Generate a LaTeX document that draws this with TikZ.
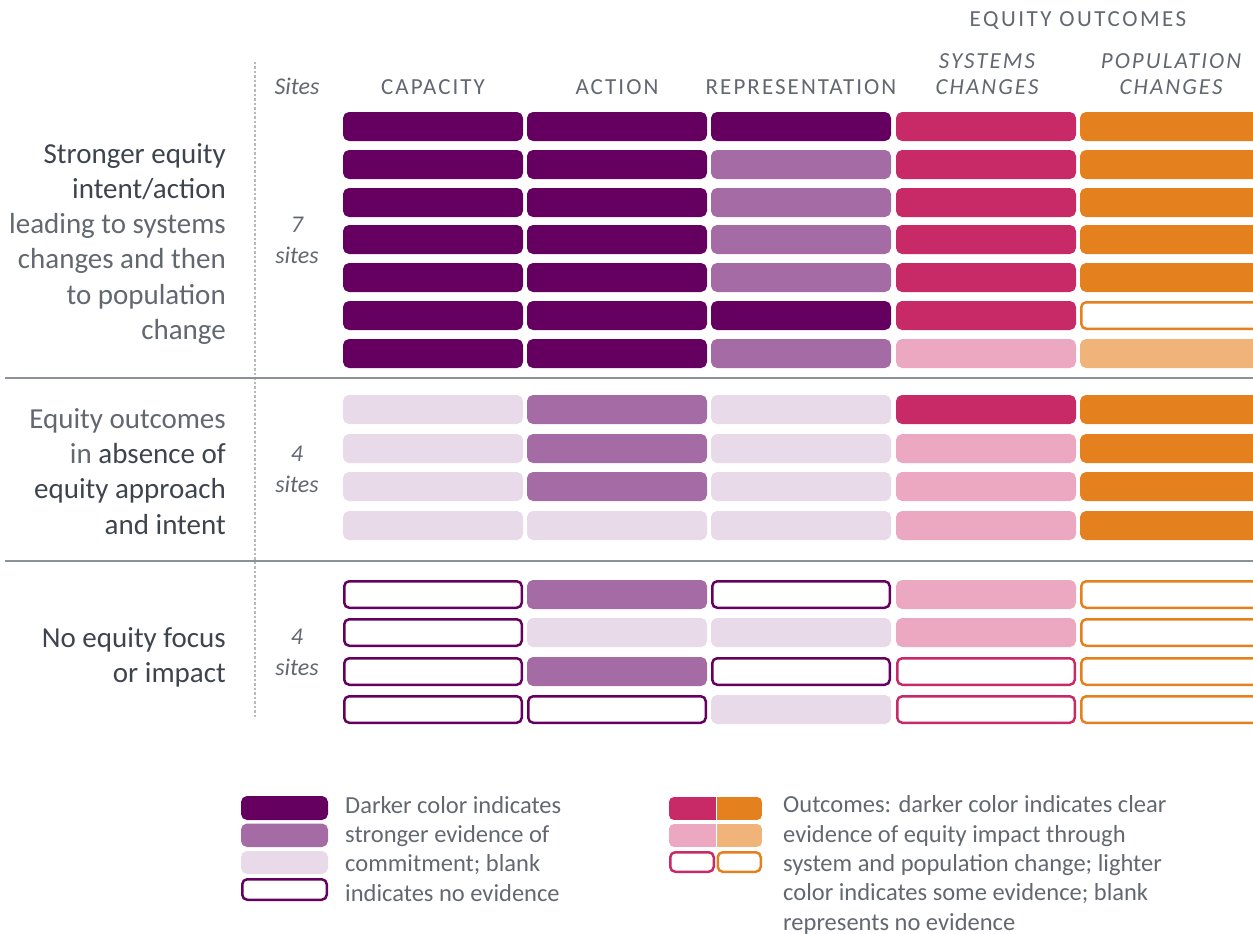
\documentclass[tikz,border=0pt]{standalone}
\usepackage{fontspec}
\setmainfont{Carlito}
\newfontfamily\capsfont[LetterSpace=9]{Carlito}
\newfontfamily\widecaps[LetterSpace=11]{Carlito}

% colours of the cells
\definecolor{purDark}{RGB}{102,0,96}
\definecolor{purMid}{RGB}{165,107,165}
\definecolor{purLight}{RGB}{232,218,233}
\definecolor{pnkDark}{RGB}{200,42,104}
\definecolor{pnkLight}{RGB}{236,168,193}
\definecolor{orgDark}{RGB}{229,128,30}
\definecolor{orgLight}{RGB}{240,179,122}
\definecolor{txtLight}{RGB}{98,103,112}
\definecolor{txtStrong}{RGB}{62,68,78}
\definecolor{rule}{RGB}{140,144,151}

\tikzset{
  cellbox/.style={line width=2.5pt, rounded corners=5pt},
  pur3/.style={cellbox, fill=purDark, draw=purDark},
  pur2/.style={cellbox, fill=purMid, draw=purMid},
  pur1/.style={cellbox, fill=purLight, draw=purLight},
  pur0/.style={cellbox, fill=white, draw=purDark},
  pnk3/.style={cellbox, fill=pnkDark, draw=pnkDark},
  pnk1/.style={cellbox, fill=pnkLight, draw=pnkLight},
  pnk0/.style={cellbox, fill=white, draw=pnkDark},
  org3/.style={cellbox, fill=orgDark, draw=orgDark},
  org1/.style={cellbox, fill=orgLight, draw=orgLight},
  org0/.style={cellbox, fill=white, draw=orgDark},
  grouptext/.style={inner sep=0pt, anchor=base east, text=txtLight,
    font=\fontsize{29}{35}\selectfont},
  header/.style={inner sep=0pt, anchor=base, text=txtLight, align=center,
    font=\capsfont\fontsize{23}{25}\selectfont},
  sitestext/.style={inner sep=0pt, anchor=base, text=txtLight, align=center,
    font=\itshape\fontsize{24}{31}\selectfont},
  legendtext/.style={inner sep=0pt, anchor=base west, text=txtLight, align=left,
    font=\fontsize{24.5}{29.3}\selectfont},
  separator/.style={draw=rule, line width=2pt},
  sitedots/.style={draw=gray!55, line width=2.5pt, dash pattern=on 2.5pt off 2pt}
}

% one cell of the grid: left edge, top edge, style
\newcommand{\cell}[3]{\path[#3] (#1+1.25,#2+1.25) rectangle ++(177.5,26.5);}
\newcommand{\strongtxt}[1]{\textcolor{txtStrong}{#1}}

\begin{document}
\begin{tikzpicture}[x=1pt, y=-1pt]

    % Fix the size of the picture
    \useasboundingbox (0,0) rectangle (1253,934);

    % Column headers (base of a two-line node is its last line)
    \node[header, font=\widecaps\fontsize{23}{25}\selectfont] (hdOutcomes) at (1078,27) {EQUITY OUTCOMES};
    \node[sitestext] (hdSites) at (297,94) {Sites};
    \node[header] (hdCap) at (433,95) {CAPACITY};
    \node[header] (hdAct) at (617,95) {ACTION};
    \node[header] (hdRep) at (801,95) {REPRESENTATION};
    \node[header, font=\capsfont\itshape\fontsize{23}{25}\selectfont] (hdSys) at (987,94) {SYSTEMS\\CHANGES};
    \node[header, font=\capsfont\itshape\fontsize{23}{25}\selectfont] (hdPop) at (1171,94) {POPULATION\\CHANGES};

    % Dotted line between group labels and sites
    \coordinate (dotTop) at (255,62);
    \coordinate (dotBot) at (255,718);
    \draw[sitedots] (dotTop) -- (dotBot);

    % Lines between the three groups
    \coordinate (sepA0) at (5,378);
    \coordinate (sepA1) at (1253,378);
    \coordinate (sepB0) at (5,561);
    \coordinate (sepB1) at (1253,561);
    \draw[separator] (sepA0) -- (sepA1);
    \draw[separator] (sepB0) -- (sepB1);

    % Grid: top of row, then capacity, action, representation, systems, population
    \foreach \y/\a/\b/\c/\d/\e in {
        112/pur3/pur3/pur3/pnk3/org3,
        150/pur3/pur3/pur2/pnk3/org3,
        188/pur3/pur3/pur2/pnk3/org3,
        225/pur3/pur3/pur2/pnk3/org3,
        263/pur3/pur3/pur2/pnk3/org3,
        301/pur3/pur3/pur3/pnk3/org0,
        339/pur3/pur3/pur2/pnk1/org1,
        395/pur1/pur2/pur1/pnk3/org3,
        434/pur1/pur2/pur1/pnk1/org3,
        472/pur1/pur2/pur1/pnk1/org3,
        511/pur1/pur1/pur1/pnk1/org3,
        580/pur0/pur2/pur0/pnk1/org0,
        618/pur0/pur1/pur1/pnk1/org0,
        657/pur0/pur2/pur0/pnk0/org0,
        695/pur0/pur0/pur1/pnk0/org0}{
      \cell{343}{\y}{\a}
      \cell{527}{\y}{\b}
      \cell{711}{\y}{\c}
      \cell{896}{\y}{\d}
      \cell{1080}{\y}{\e}
    }

    % Group 1
    \node[grouptext] (gA1) at (226,163) {\strongtxt{Stronger equity}};
    \node[grouptext] (gA2) at (226,198) {\strongtxt{intent/action}};
    \node[grouptext] (gA3) at (226,233) {leading to systems};
    \node[grouptext] (gA4) at (226,268) {changes and then};
    \node[grouptext] (gA5) at (226,304) {to population};
    \node[grouptext] (gA6) at (226,339) {change};
    \node[sitestext] (sitesA) at (297,263) {7\\sites};

    % Group 2
    \node[grouptext] (gB1) at (226,428) {Equity outcomes};
    \node[grouptext] (gB2) at (226,463) {in \strongtxt{absence of}};
    \node[grouptext] (gB3) at (226,498) {\strongtxt{equity approach}};
    \node[grouptext] (gB4) at (226,534) {\strongtxt{and intent}};
    \node[sitestext] (sitesB) at (297,492) {4\\sites};

    % Group 3
    \node[grouptext] (gC1) at (226,647) {\strongtxt{No equity focus}};
    \node[grouptext] (gC2) at (226,682) {\strongtxt{or impact}};
    \node[sitestext] (sitesC) at (297,675) {4\\sites};

    % Legend for the commitment columns
    \path[pur3] (242.25,797.25) rectangle (326.75,818.75);
    \path[pur2] (242.25,824.75) rectangle (326.75,845.75);
    \path[pur1] (242.25,852.25) rectangle (326.75,872.75);
    \path[pur0] (242.25,879.25) rectangle (326.75,899.75);
    \node[legendtext] (legA) at (345,901) {Darker color indicates\\stronger evidence of\\commitment; blank\\indicates no evidence};

    % Legend for the outcome columns
    \begin{scope}
      \clip[rounded corners=5pt] (669,797) rectangle (762,820);
      \fill[pnkDark] (669,797) rectangle (715.5,820);
      \fill[orgDark] (716.5,797) rectangle (762,820);
    \end{scope}
    \begin{scope}
      \clip[rounded corners=5pt] (669,824) rectangle (762,847);
      \fill[pnkLight] (669,824) rectangle (715.5,847);
      \fill[orgLight] (716.5,824) rectangle (762,847);
    \end{scope}
    \path[pnk0] (670.25,852.25) rectangle (713.75,871.75);
    \path[org0] (717.75,852.25) rectangle (760.75,871.75);
    \node[legendtext] (legB) at (783,930) {Outcomes: darker color indicates clear\\evidence of equity impact through\\system and population change; lighter\\color indicates some evidence; blank\\represents no evidence};

\end{tikzpicture}
\end{document}
